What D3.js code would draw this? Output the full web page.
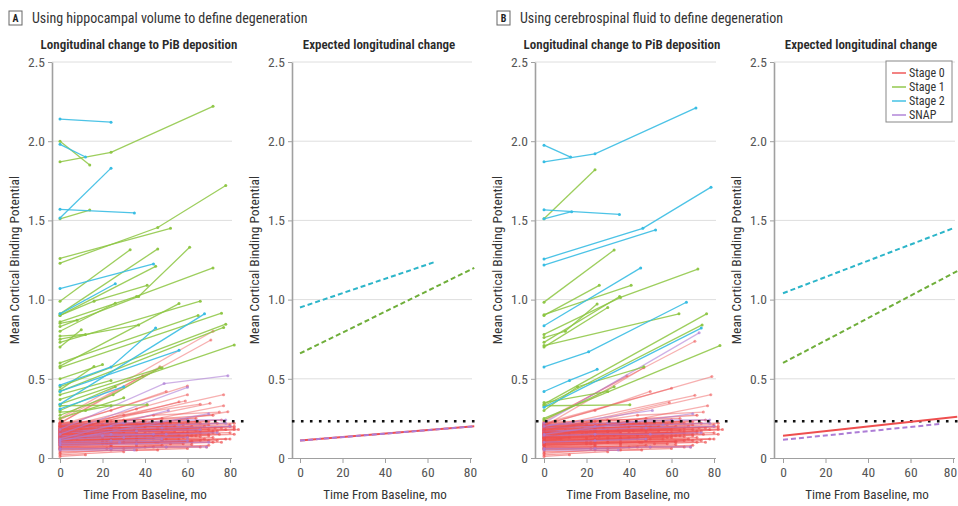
<!DOCTYPE html>
<html><head><meta charset="utf-8">
<script src="https://cdn.jsdelivr.net/npm/d3@7"></script>
<style>body{margin:0;background:#fff}svg{display:block}</style>
</head><body>
<svg id="c" width="958" height="506"></svg>
<script>
// ---------------- DATA ----------------
// each trajectory: flat list [month, value, month, value, ...]
const yTicks = [0, 0.5, 1.0, 1.5, 2.0, 2.5];
const xTicks = [0, 20, 40, 60, 80];
const threshold = 0.232;
const stageNames = ["Stage 0", "Stage 1", "Stage 2", "SNAP"];

const A_stage2 = [
 [0,2.14, 24,2.12],[0,1.98, 12,1.90],[0,1.515, 24,1.83],[0,1.57, 35,1.547],
 [0,1.07, 44,1.225],[0,0.91, 26,1.10],[0,0.46, 24,0.575, 45,0.82],[0,0.42, 56,0.68],
 [0,0.34, 68,0.91],[0,0.31, 30,0.45]
];
const A_stage1 = [
 [0,2.0, 14,1.85],[0,1.87, 24,1.93, 72,2.22],[0,1.51, 14,1.565],[0,1.23, 46,1.455, 78,1.72],
 [0,1.26, 52,1.45],[0,0.99, 33,1.315],[0,0.91, 46,1.32],[0,0.83, 37,1.02, 61,1.33],
 [0,0.90, 45,1.21],[0,0.86, 36,1.02, 72,1.20],[0,0.90, 16,0.99, 41,1.09],[0,0.80, 26,0.977],
 [0,0.58, 56,0.975],[0,0.73, 66,0.99],[0,0.60, 65,0.90],[0,0.57, 76,0.914],
 [0,0.45, 78,0.845],[0,0.42, 77,0.824],[0,0.34, 82,0.714],[0,0.77, 12,0.78],
 [0,0.70, 10,0.81],[0,0.75, 37,0.84],[0,0.85, 8,0.87],[0,0.50, 20,0.59],
 [0,0.33, 41,0.336],[0,0.43, 16,0.578],[0,0.30, 26,0.45],[0,0.27, 25,0.40, 47,0.57],
 [0,0.37, 48,0.57],[0,0.25, 30,0.38],[0,0.29, 12,0.30, 24,0.33],[0,0.40, 24,0.49]
];
const A_stage0_high = [
 [0,0.24, 47,0.576],[0,0.22, 39,0.52],[0,0.25, 72,0.80],[0,0.22, 71,0.745],
 [0,0.17, 77,0.40],[0,0.20, 60,0.455],[0,0.15, 70.6,0.345],[0,0.18, 59,0.36],
 [0,0.14, 41,0.336],[0,0.12, 79,0.292],[0,0.16, 56,0.355],[0,0.13, 77,0.33],
 [0,0.19, 36,0.31, 60,0.40],[0,0.21, 24,0.30, 50,0.42],[0,0.20, 30,0.27, 66,0.34],
 [0,0.18, 44,0.27, 75,0.29]
];
const A_snap_high = [
 [0,0.18, 49,0.47, 79,0.52],[0,0.15, 60,0.446],[0,0.12, 51,0.30],[0,0.11, 70,0.28]
];
const B_stage2 = [
 [0,1.975, 12.5,1.90],[0,1.87, 24,1.92, 71.5,2.21],[0,1.567, 35.5,1.538],[0,1.51, 13,1.555],
 [0,1.256, 46.5,1.45, 78.6,1.71],[0,1.218, 52.5,1.44],[0,0.835, 45.5,1.20],
 [0,0.575, 21,0.67, 67,0.983],[0,0.42, 12,0.49, 25,0.56],[0,0.32, 74,0.82]
];
const B_stage1 = [
 [0,1.51, 24,1.82],[0,0.984, 33,1.313],[0,0.90, 26,1.09],[0,0.905, 41,1.09],
 [0,0.78, 36,1.014, 72.4,1.193],[0,0.76, 10,0.80, 25,0.972],[0,0.73, 35.6,1.02],
 [0,0.71, 63.5,0.91],[0,0.34, 76.5,0.91],[0,0.33, 74.4,0.84],[0,0.25, 82.8,0.71],
 [0,0.33, 40.4,0.336],[0,0.30, 15.8,0.45, 47,0.576],[0,0.24, 33,0.45],[0,0.35, 30,0.42],
 [0,0.70, 30,0.95]
];
const B_stage0_high = [
 [0,0.24, 71,0.737],[0,0.21, 79,0.514],[0,0.23, 39,0.52],[0,0.17, 59,0.351],
 [0,0.19, 71,0.396],[0,0.16, 78.5,0.40],[0,0.20, 47,0.57],[0,0.22, 60,0.44],
 [0,0.13, 77,0.33],[0,0.21, 24,0.30, 50,0.42],[0,0.18, 44,0.27, 75,0.29]
];
const B_snap_high = [
 [0,0.22, 73,0.79],[0,0.20, 51,0.30],[0,0.15, 70,0.28]
];
const low_stage0 = [
 [0,0.22, 24,0.23, 48,0.25, 72,0.27],[0,0.21, 30,0.22, 60,0.24],[0,0.20, 20,0.21, 45,0.22, 76,0.24],
 [0,0.19, 36,0.21, 66,0.22],[0,0.19, 24,0.19, 50,0.20, 80,0.21],[0,0.18, 28,0.19, 58,0.21],
 [0,0.18, 40,0.20, 82,0.19],[0,0.17, 24,0.18, 48,0.19, 73,0.19],[0,0.17, 35,0.18, 62,0.20],
 [0,0.16, 22,0.17, 46,0.18, 70,0.18],[0,0.16, 30,0.17, 78,0.18],[0,0.15, 24,0.16, 54,0.17],
 [0,0.15, 36,0.15, 72,0.17],[0,0.14, 18,0.15, 40,0.16, 66,0.17],[0,0.14, 28,0.15, 60,0.16, 84,0.18],
 [0,0.13, 24,0.14, 50,0.15, 75,0.15],[0,0.13, 33,0.14, 64,0.14],[0,0.12, 20,0.13, 44,0.14, 70,0.14],
 [0,0.12, 36,0.13, 60,0.13],[0,0.11, 24,0.12, 48,0.12, 72,0.13],[0,0.11, 30,0.12, 58,0.13],
 [0,0.10, 22,0.11, 50,0.12, 68,0.12],[0,0.10, 36,0.10, 74,0.11],[0,0.09, 24,0.10, 48,0.11, 80,0.12],
 [0,0.09, 30,0.10, 62,0.10],[0,0.08, 20,0.09, 45,0.10, 72,0.10],[0,0.08, 36,0.09, 58,0.09],
 [0,0.07, 24,0.08, 52,0.09, 76,0.10],[0,0.07, 40,0.07, 70,0.08],[0,0.06, 24,0.07, 48,0.08],
 [0,0.06, 30,0.06, 66,0.07],[0,0.05, 22,0.06, 50,0.07, 69,0.07],[0,0.04, 36,0.05, 60,0.06],
 [0,0.03, 24,0.05, 46,0.05],[0,0.02, 30,0.04],[0,0.01, 12,0.02],
 [0,0.205, 26,0.215, 52,0.22],[0,0.195, 14,0.20, 38,0.21],[0,0.185, 24,0.20, 60,0.22, 74,0.22],
 [0,0.175, 40,0.19],[0,0.165, 24,0.175, 50,0.185, 80,0.20],[0,0.155, 30,0.165, 64,0.175],
 [0,0.145, 12,0.15, 36,0.16],[0,0.135, 24,0.145, 48,0.155, 72,0.16],[0,0.125, 26,0.135, 56,0.145],
 [0,0.115, 36,0.125, 66,0.135],[0,0.105, 24,0.115, 44,0.12],[0,0.095, 20,0.105, 48,0.115, 78,0.12],
 [0,0.085, 36,0.095, 62,0.105],[0,0.075, 24,0.085],[0,0.215, 18,0.22, 40,0.23],
 [0,0.225, 30,0.24, 64,0.25],[0,0.17, 10,0.175, 24,0.18],[0,0.13, 12,0.13],[0,0.11, 8,0.12],
 [0,0.19, 48,0.22, 70,0.23],[0,0.15, 48,0.18, 82,0.20],[0,0.12, 46,0.15, 74,0.17],
 [0,0.14, 60,0.16],[0,0.16, 66,0.19],[0,0.10, 60,0.14, 82,0.15],
 [0,0.21, 20,0.215, 42,0.22, 64,0.23],[0,0.20, 36,0.21, 70,0.21],[0,0.185, 18,0.19, 54,0.20],
 [0,0.175, 24,0.185, 46,0.19, 68,0.20],[0,0.165, 30,0.17, 60,0.18],[0,0.155, 20,0.16, 42,0.17, 76,0.19],
 [0,0.145, 36,0.155, 58,0.16],[0,0.135, 22,0.14, 44,0.15, 66,0.155],[0,0.125, 30,0.13, 70,0.15],
 [0,0.115, 20,0.12, 40,0.13, 62,0.14],[0,0.105, 36,0.115, 56,0.12],[0,0.095, 30,0.10, 66,0.11],
 [0,0.085, 22,0.09, 46,0.10, 70,0.11],[0,0.065, 36,0.075, 62,0.085],[0,0.055, 24,0.06, 44,0.07],
 [0,0.20, 24,0.205, 48,0.21, 82,0.22],[0,0.16, 24,0.165, 48,0.17, 82,0.18],[0,0.13, 24,0.14, 48,0.15, 80,0.16]
];
const low_snapA = [
 [0,0.19, 24,0.20, 56,0.21, 78,0.22],[0,0.16, 36,0.17, 66,0.18],[0,0.14, 24,0.15, 50,0.15, 74,0.16],
 [0,0.12, 30,0.13, 60,0.13],[0,0.10, 24,0.11, 48,0.12],[0,0.08, 36,0.09, 70,0.10],
 [0,0.06, 24,0.06, 50,0.07, 69,0.07],[0,0.05, 35,0.05],[0,0.17, 48,0.19, 80,0.20],
 [0,0.13, 20,0.14, 44,0.15],[0,0.21, 30,0.22, 60,0.24, 78,0.24],[0,0.09, 28,0.10, 60,0.11]
];
const low_snapB = [
 [0,0.19, 24,0.20, 56,0.21, 78,0.22],[0,0.14, 24,0.15, 50,0.15, 74,0.16],[0,0.10, 24,0.11, 48,0.12],
 [0,0.06, 24,0.06, 50,0.07, 69,0.07],[0,0.17, 48,0.19, 80,0.20],[0,0.05, 35,0.05],
 [0,0.21, 30,0.22, 60,0.24, 78,0.24]
];
// expected (model) lines: [start month, start value, end month, end value]
const A_exp_stage0 = [0,0.11, 82,0.20];
const A_exp_stage1 = [0,0.66, 82,1.20];
const A_exp_stage2 = [0,0.95, 64,1.24];
const A_exp_snap   = [0,0.11, 82,0.20];
const B_exp_stage0 = [0,0.14, 82,0.26];
const B_exp_stage1 = [0,0.60, 82,1.18];
const B_exp_stage2 = [0,1.04, 80,1.45];
const B_exp_snap   = [0,0.115, 74,0.215];

// ---------------- DRAWING ----------------
const FONT = '"Liberation Sans Narrow","Roboto Condensed","DejaVu Sans Condensed","Arial Narrow",sans-serif';
const COL = {s0:"#ee4f4f", s1:"#8cc541", s2:"#38bde3", snap:"#ad7dd6"};
const svg = d3.select("#c").style("font-family", FONT);
svg.append("rect").attr("width",958).attr("height",506).attr("fill","#fff");
const y = d3.scaleLinear().domain([0,2.5]).range([458,62]);
const xScale = x0 => d3.scaleLinear().domain([0,80]).range([x0, x0+170]);
const toPts = a => { const p=[]; for(let i=0;i<a.length;i+=2) p.push([a[i],a[i+1]]); return p; };
const fmt = d => d===0 ? "0" : d3.format(".1f")(d);

function frame(ax, x0, title, dotEnd, lastShift){
  const x = xScale(x0);
  const g = svg.append("g");
  g.selectAll("line.grid").data(yTicks.filter(d=>d>0)).join("line")
    .attr("x1", ax).attr("x2", x(80)+2).attr("y1", d=>y(d)).attr("y2", d=>y(d))
    .attr("stroke","#dedede").attr("stroke-width",1);
  const ya = g.append("g").attr("transform",`translate(${ax},0)`)
    .call(d3.axisLeft(y).tickValues(yTicks).tickFormat(fmt).tickSize(4).tickSizeOuter(0).tickPadding(3));
  ya.select(".domain").attr("stroke","#a0a0a0").attr("stroke-width",1.6);
  ya.selectAll(".tick line").attr("stroke","#a0a0a0");
  ya.selectAll(".tick text").attr("fill","#555").style("font-size","13.5px").style("font-family",FONT);
  const xa = g.append("g").attr("transform","translate(0,458)")
    .call(d3.axisBottom(x).tickValues(xTicks).tickFormat(d3.format("d")).tickSize(5).tickPadding(4));
  xa.select(".domain").remove();
  xa.selectAll(".tick line").attr("stroke","#a0a0a0");
  xa.selectAll(".tick text").attr("fill","#555").style("font-size","13.5px").style("font-family",FONT)
    .attr("dx", d => (d===80 && lastShift) ? -lastShift : 0);
  g.append("line").attr("x1",ax).attr("x2",x(80)+2).attr("y1",458.5).attr("y2",458.5)
    .attr("stroke","#a0a0a0").attr("stroke-width",1.2);
  g.append("text").attr("x",ax+87).attr("y",49).attr("text-anchor","middle")
    .attr("fill","#2a2a2a").style("font-size","13px").style("font-weight","600").text(title);
  g.append("text").attr("x",ax+93).attr("y",499).attr("text-anchor","middle")
    .attr("fill","#333").style("font-size","13px").text("Time From Baseline, mo");
  g.append("text").attr("transform",`translate(${ax-33},260) rotate(-90)`).attr("text-anchor","middle")
    .attr("fill","#333").style("font-size","13.5px").text("Mean Cortical Binding Potential");
  return {g, x, dotEnd};
}
function threshLine(p){
  p.g.append("line").attr("x1",p.x(-3.8)).attr("x2",p.x(p.dotEnd)).attr("y1",y(threshold)).attr("y2",y(threshold))
    .attr("stroke","#111").attr("stroke-width",2.6).attr("stroke-dasharray","2.6,6.4");
}
function spaghetti(p, sets, col, op){
  const line = d3.line().x(d=>p.x(d[0])).y(d=>y(d[1]));
  const gg = p.g.append("g");
  sets.forEach(a=>{
    const pts = toPts(a);
    gg.append("path").attr("d", line(pts)).attr("fill","none").attr("stroke",col)
      .attr("stroke-width",1.3).attr("stroke-opacity",op);
    gg.selectAll(null).data(pts).join("circle").attr("cx",d=>p.x(d[0])).attr("cy",d=>y(d[1]))
      .attr("r",1.5).attr("fill",col).attr("fill-opacity",Math.min(1,op+0.1));
  });
}
function expected(p, a, col, dash){
  const pts = toPts(a);
  p.g.append("path").attr("d", d3.line().x(d=>p.x(d[0])).y(d=>y(d[1]))(pts))
    .attr("fill","none").attr("stroke",col).attr("stroke-width",2)
    .attr("stroke-dasharray", dash ? "5,3" : null);
}
function header(x, letter, text){
  svg.append("rect").attr("x",x).attr("y",11).attr("width",13).attr("height",14)
    .attr("fill","#fff").attr("stroke","#666").attr("stroke-width",1);
  svg.append("text").attr("x",x+6.5).attr("y",22).attr("text-anchor","middle")
    .style("font-size","10px").style("font-weight","700").attr("fill","#222").text(letter);
  svg.append("text").attr("x",x+23).attr("y",22.5).style("font-size","14px").attr("fill","#333").text(text);
}

header(9, "A", "Using hippocampal volume to define degeneration");
header(497, "B", "Using cerebrospinal fluid to define degeneration");

// Panel A left
const pA1 = frame(52, 60, "Longitudinal change to PiB deposition", 88, 0);
spaghetti(pA1, low_stage0, COL.s0, 0.55);
spaghetti(pA1, low_snapA, COL.snap, 0.6);
spaghetti(pA1, A_stage0_high, COL.s0, 0.45);
spaghetti(pA1, A_snap_high, COL.snap, 0.6);
spaghetti(pA1, A_stage1, COL.s1, 0.85);
spaghetti(pA1, A_stage2, COL.s2, 0.9);
threshLine(pA1);
// Panel A right
const pA2 = frame(292, 300, "Expected longitudinal change", 85, 0);
threshLine(pA2);
expected(pA2, A_exp_stage0, COL.s0, false);
expected(pA2, A_exp_snap, COL.snap, true);
expected(pA2, A_exp_stage1, "#6fae3a", true);
expected(pA2, A_exp_stage2, "#2cb5c9", true);
// Panel B left
const pB1 = frame(535, 544, "Longitudinal change to PiB deposition", 88, 0);
spaghetti(pB1, low_stage0, COL.s0, 0.55);
spaghetti(pB1, low_snapB, COL.snap, 0.6);
spaghetti(pB1, B_stage0_high, COL.s0, 0.45);
spaghetti(pB1, B_snap_high, COL.snap, 0.6);
spaghetti(pB1, B_stage1, COL.s1, 0.85);
spaghetti(pB1, B_stage2, COL.s2, 0.9);
threshLine(pB1);
// Panel B right
const pB2 = frame(774, 783, "Expected longitudinal change", 85, 3);
threshLine(pB2);
expected(pB2, B_exp_stage0, COL.s0, false);
expected(pB2, B_exp_snap, COL.snap, true);
expected(pB2, B_exp_stage1, "#6fae3a", true);
expected(pB2, B_exp_stage2, "#2cb5c9", true);

// Legend
const lg = svg.append("g");
lg.append("rect").attr("x",886).attr("y",61).attr("width",66).attr("height",61)
  .attr("fill","#fff").attr("stroke","#888").attr("stroke-width",1);
const lcol = [COL.s0, COL.s1, COL.s2, COL.snap];
stageNames.forEach((n,i)=>{
  const yy = 73 + i*14;
  lg.append("line").attr("x1",892).attr("x2",906).attr("y1",yy).attr("y2",yy)
    .attr("stroke",lcol[i]).attr("stroke-width",2).attr("stroke-opacity",0.7);
  lg.append("text").attr("x",909).attr("y",yy+4).style("font-size","12px").attr("fill","#333").text(n);
});
</script>
</body></html>
